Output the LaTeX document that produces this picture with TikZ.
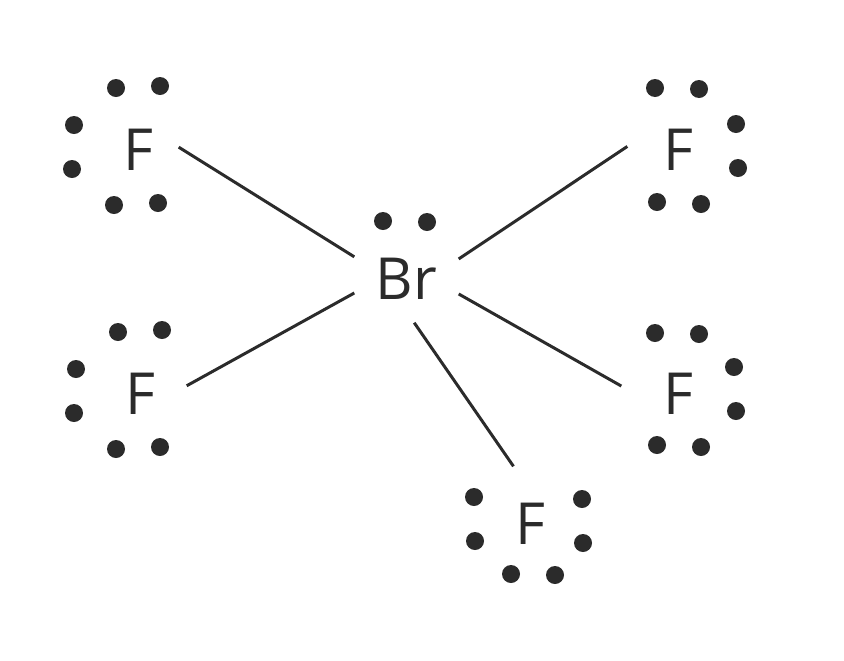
\documentclass[tikz,border=0pt]{standalone}
\usepackage{fontspec}
\setmainfont{Open Sans}
\definecolor{inkdark}{HTML}{2B2B2B}
\tikzset{
  atom/.style={rectangle, inner sep=0pt, text=inkdark, font=\fontsize{16.5}{20}\selectfont},
  fatom/.style={atom, minimum height=1.14cm},
  bond/.style={draw=inkdark, line width=0.85pt},
  lonepair/.style={fill=inkdark},
}
\begin{document}
\begin{tikzpicture}
    \useasboundingbox (0,0) rectangle (8.44,6.6);
    \node[atom, minimum width=1.03cm, minimum height=0.86cm] (Br) at (4.065,3.81) {Br};
    \node[fatom, minimum width=0.80cm] (F1) at (1.38,5.10) {F};
    \node[fatom, minimum width=0.92cm] (F2) at (1.40,2.66) {F};
    \node[fatom, minimum width=1.00cm] (F3) at (6.78,5.10) {F};
    \node[fatom, minimum width=1.12cm] (F4) at (6.78,2.66) {F};
    \node[fatom, minimum width=0.90cm] (F5) at (5.30,1.36) {F};
    \draw[bond] (Br.157) -- (F1.4);
    \draw[bond] (Br.195) -- (F2.10);
    \draw[bond] (Br.21) -- (F3.176);
    \draw[bond] (Br.-16) -- (F4.172);
    \draw[bond] (Br.-80) -- (F5.106);
    \foreach \x/\y in {3.83/4.39, 4.27/4.38,
        1.16/5.72, 1.60/5.74, 0.74/5.35, 0.72/4.91, 1.14/4.55, 1.58/4.57,
        1.18/3.28, 1.62/3.30, 0.76/2.91, 0.74/2.47, 1.16/2.11, 1.60/2.13,
        6.55/5.72, 6.99/5.71, 7.36/5.36, 7.38/4.92, 6.57/4.58, 7.01/4.56,
        6.55/3.27, 6.99/3.26, 7.34/2.93, 7.36/2.49, 6.57/2.15, 7.01/2.13,
        4.74/1.63, 4.75/1.19, 5.82/1.61, 5.83/1.17, 5.11/0.86, 5.55/0.85}
      \fill[lonepair] (\x,\y) circle (0.09);
\end{tikzpicture}
\end{document}
